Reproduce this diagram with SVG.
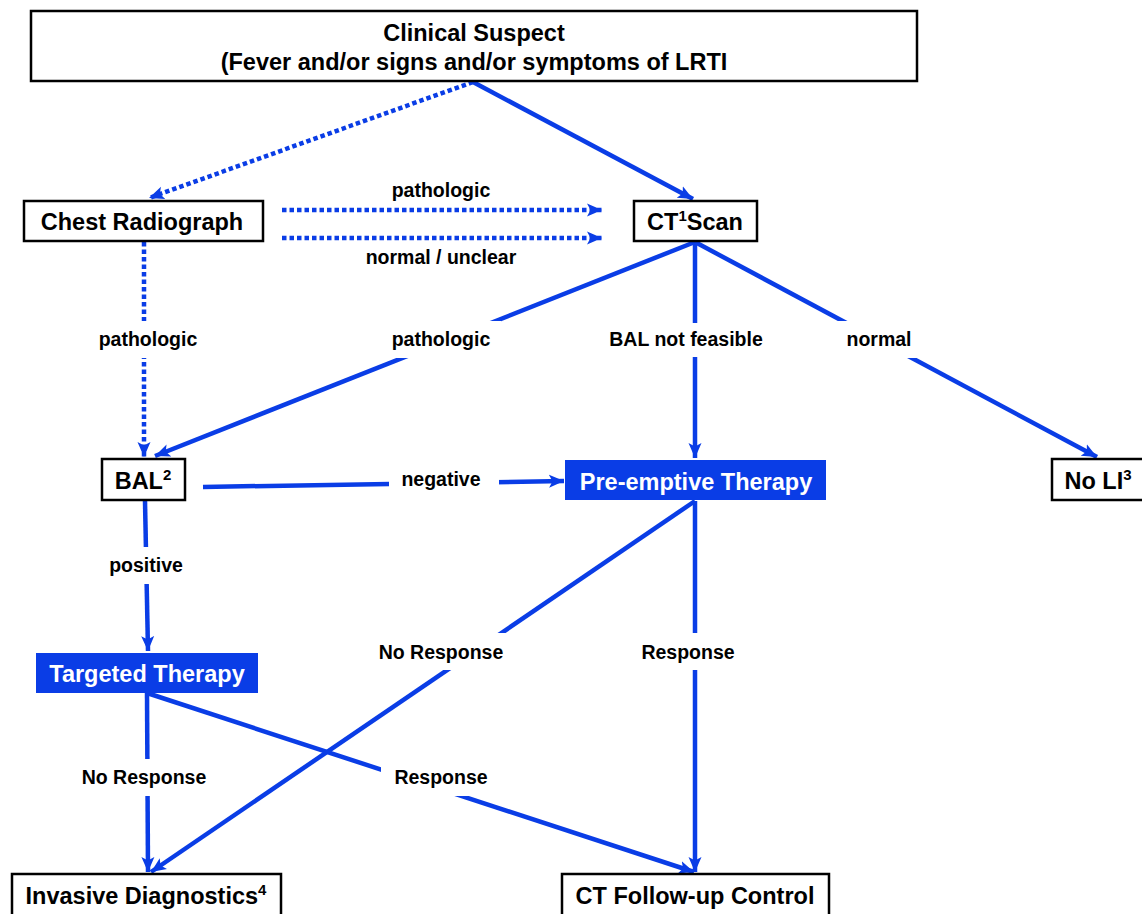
<svg xmlns="http://www.w3.org/2000/svg" width="1142" height="914" viewBox="0 0 1142 914">
<style>
.box{fill:#fff;stroke:#000;stroke-width:2.5}
.fill{fill:#0a3de6;stroke:none}
.t{font-family:"Liberation Sans",Arial,sans-serif;font-weight:bold;font-size:23.5px;fill:#000;text-anchor:middle}
.tw{fill:#fff}
.lbl{font-family:"Liberation Sans",Arial,sans-serif;font-weight:bold;font-size:19.5px;fill:#000;text-anchor:middle}
.c{fill:none;stroke:#0a3de6;stroke-width:4.5;marker-end:url(#ah)}
.d{stroke-dasharray:4.5 3}
.bg{fill:#fff}
.sup{font-size:15px}
</style>
<defs>
<marker id="ah" markerUnits="userSpaceOnUse" markerWidth="16" markerHeight="16" viewBox="0 0 16 16" refX="15" refY="8" orient="auto">
<path d="M0,1.5 L15,8 L0,14.5 L3.5,8 z" fill="#0a3de6" stroke="none"/>
</marker>
</defs>
<rect width="1142" height="914" fill="#fff"/>
<g id="connectors">
<path class="c d" d="M473,82 L149,198"/>
<path class="c" d="M473,82 L693,199"/>
<path class="c d" d="M282,210 L602,210"/>
<path class="c d" d="M282,238 L602,238"/>
<path class="c d" d="M144,242 L144,457"/>
<path class="c" d="M695,242 L155,456"/>
<path class="c" d="M695,242 L695,458"/>
<path class="c" d="M695,242 L1097,457"/>
<path class="c" d="M203,487 L564,481"/>
<path class="c" d="M145,501 L148,651"/>
<path class="c" d="M695,501 L151,872"/>
<path class="c" d="M695,501 L695,872"/>
<path class="c" d="M147,693 L148,872"/>
<path class="c" d="M147,693 L694,872"/>
</g>
<g id="labels">
<text class="lbl" x="441" y="197">pathologic</text>
<text class="lbl" x="441" y="264">normal / unclear</text>
<rect class="bg" x="88" y="321" width="120" height="37"/>
<text class="lbl" x="148" y="346">pathologic</text>
<rect class="bg" x="381" y="321" width="120" height="37"/>
<text class="lbl" x="441" y="346">pathologic</text>
<rect class="bg" x="598" y="323" width="176" height="34"/>
<text class="lbl" x="686" y="346">BAL not feasible</text>
<rect class="bg" x="836" y="321" width="86" height="37"/>
<text class="lbl" x="879" y="346">normal</text>
<rect class="bg" x="389" y="464" width="110" height="34"/>
<text class="lbl" x="441" y="486">negative</text>
<rect class="bg" x="100" y="547" width="92" height="37"/>
<text class="lbl" x="146" y="572">positive</text>
<rect class="bg" x="369" y="633" width="144" height="37"/>
<text class="lbl" x="441" y="659">No Response</text>
<rect class="bg" x="630" y="633" width="116" height="37"/>
<text class="lbl" x="688" y="659">Response</text>
<rect class="bg" x="72" y="759" width="144" height="37"/>
<text class="lbl" x="144" y="784">No Response</text>
<rect class="bg" x="381" y="759" width="120" height="37"/>
<text class="lbl" x="441" y="784">Response</text>
</g>
<g id="clinical-suspect">
<rect class="box" x="31" y="11" width="886" height="70"/>
<text class="t" x="474" y="41">Clinical Suspect</text>
<text class="t" x="474" y="70">(Fever and/or signs and/or symptoms of LRTI</text>
</g>
<g id="chest-radiograph">
<rect class="box" x="24" y="201" width="239" height="40"/>
<text class="t" x="142" y="230">Chest Radiograph</text>
</g>
<g id="ct-scan">
<rect class="box" x="634" y="201" width="123" height="40"/>
<text class="t" x="695" y="230">CT<tspan class="sup" dy="-9">1</tspan><tspan dy="9">Scan</tspan></text>
</g>
<g id="bal">
<rect class="box" x="102" y="459" width="83" height="41"/>
<text class="t" x="143" y="489">BAL<tspan class="sup" dy="-9">2</tspan></text>
</g>
<g id="pre-emptive-therapy">
<rect class="fill" x="565" y="460" width="261" height="40"/>
<text class="t tw" x="696" y="490">Pre-emptive Therapy</text>
</g>
<g id="no-li">
<rect class="box" x="1052" y="459" width="100" height="41"/>
<text class="t" x="1098" y="489">No LI<tspan class="sup" dy="-9">3</tspan></text>
</g>
<g id="targeted-therapy">
<rect class="fill" x="36" y="653" width="222" height="40"/>
<text class="t tw" x="147" y="682">Targeted Therapy</text>
</g>
<g id="invasive-diagnostics">
<rect class="box" x="12" y="874" width="269" height="50"/>
<text class="t" x="146" y="904">Invasive Diagnostics<tspan class="sup" dy="-9">4</tspan></text>
</g>
<g id="ct-follow-up">
<rect class="box" x="562" y="874" width="267" height="50"/>
<text class="t" x="695" y="904">CT Follow-up Control</text>
</g>
</svg>
